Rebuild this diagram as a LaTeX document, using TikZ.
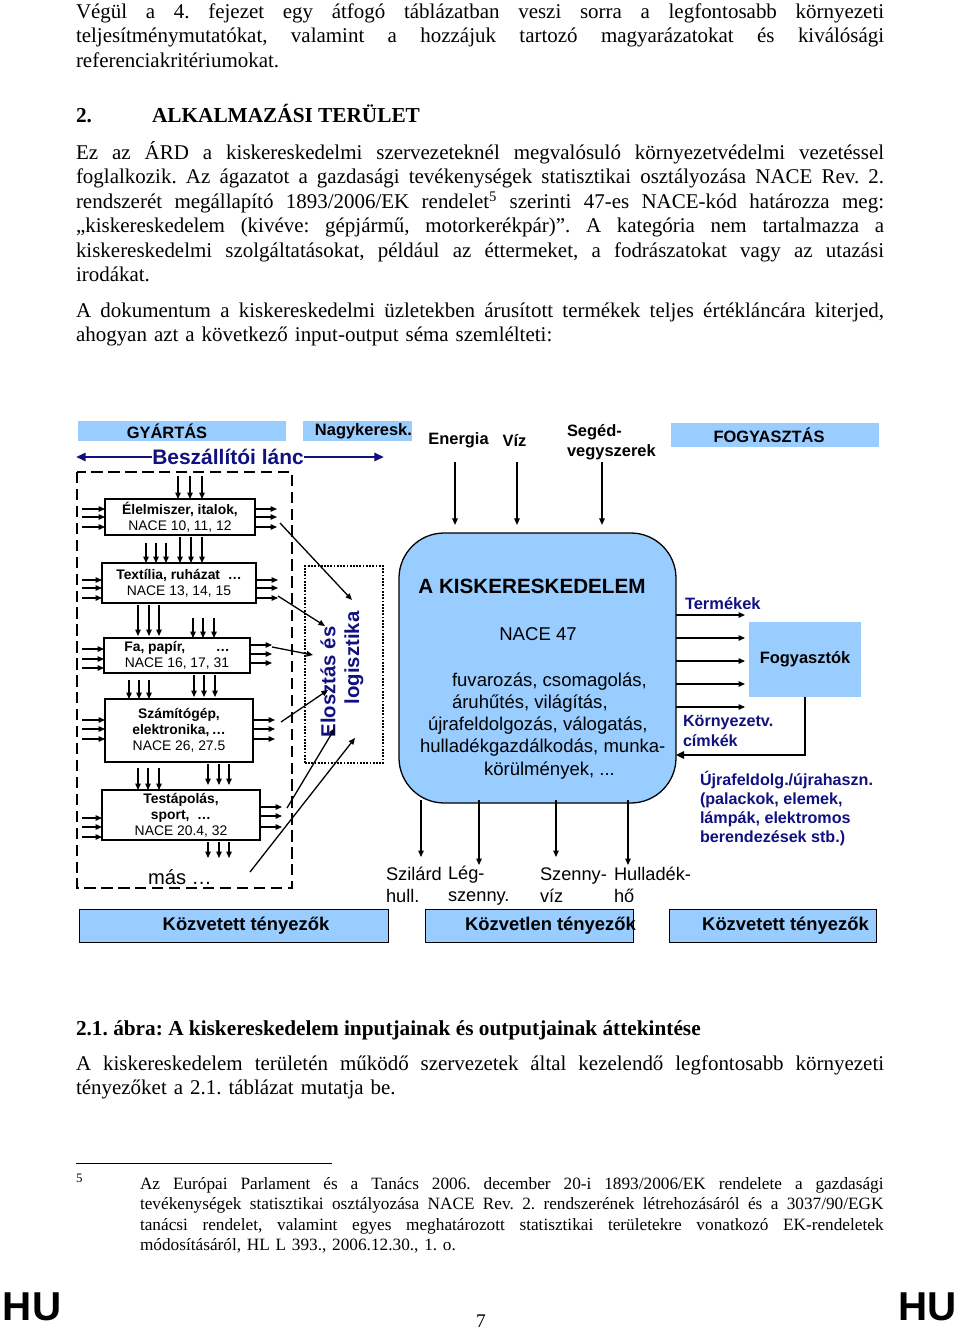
\documentclass[tikz,border=0pt]{standalone}
\usepackage{fontspec}
\setmainfont{Liberation Serif}
\setsansfont{Liberation Sans}
\usetikzlibrary{arrows.meta}

\definecolor{lightbar}{RGB}{153,204,255}
\definecolor{darknavy}{RGB}{16,16,128}

\newcommand{\pxu}{0.62pt}
% kitoltott (sorkizart) sor
\newcommand{\jline}[2]{\makebox[#1][s]{\spaceskip=0pt\xspaceskip=0pt #2}}
\frenchspacing

\begin{document}
\begin{tikzpicture}[x=0.62pt,y=-0.62pt,
  every node/.style={inner sep=0pt,outer sep=0pt},
  bodytext/.style={font=\fontsize{13}{15.2}\selectfont,text width=501pt,align=left,anchor=north west},
  headtext/.style={font=\bfseries\fontsize{13.2}{15.2}\selectfont,anchor=base west},
  notetext/.style={font=\fontsize{10.7}{12.7}\selectfont,text width=461pt,align=left,anchor=north west},
  sarr/.style={-{Triangle[length=4pt,width=3.4pt]},line width=0.8pt},
  navyarr/.style={-{Triangle[length=6pt,width=5pt]},line width=1.6pt,draw=darknavy},
  sector/.style={draw,fill=white,line width=0.7pt,font=\sffamily\fontsize{8.6}{10}\selectfont,align=center},
  topbar/.style={fill=lightbar,minimum height=20*\pxu},
  footbar/.style={fill=lightbar,draw,line width=0.6pt,minimum height=33*\pxu},
  lab/.style={font=\sffamily\bfseries\fontsize{10.2}{12.4}\selectfont,align=left},
  bartext/.style={font=\sffamily\bfseries\fontsize{11.4}{13.6}\selectfont},
  plain/.style={font=\sffamily\fontsize{11.3}{13.6}\selectfont,align=left},
  procline/.style={font=\sffamily\fontsize{11.5}{13.6}\selectfont,anchor=base west},
  navylab/.style={font=\sffamily\bfseries\fontsize{10}{11.8}\selectfont,text=darknavy,align=left},
  logtxt/.style={font=\sffamily\bfseries\fontsize{12.6}{15}\selectfont,text=darknavy,rotate=90}
]
\useasboundingbox (0,0) rectangle (960,1330);

% szoveg a rajz felett
\node[bodytext] (par1) at (76,1.3) {\jline{501pt}{\strut Végül a 4. fejezet egy átfogó táblázatban veszi sorra a legfontosabb környezeti}\\%
\jline{501pt}{teljesítménymutatókat, valamint a hozzájuk tartozó magyarázatokat és kiválósági}\\%
referenciakritériumokat.};
\node[headtext] (secnum) at (76,123) {2.};
\node[headtext] (sectitle) at (152,123) {ALKALMAZÁSI TERÜLET};
\node[bodytext] (par2) at (76,141.3) {\jline{501pt}{\strut Ez az ÁRD a kiskereskedelmi szervezeteknél megvalósuló környezetvédelmi vezetéssel}\\%
\jline{501pt}{foglalkozik. Az ágazatot a gazdasági tevékenységek statisztikai osztályozása NACE Rev. 2.}\\%
\jline{501pt}{rendszerét megállapító 1893/2006/EK rendelet\textsuperscript{5} szerinti 47-es NACE-kód határozza meg:}\\%
\jline{501pt}{„kiskereskedelem (kivéve: gépjármű, motorkerékpár)”. A kategória nem tartalmazza a}\\%
\jline{501pt}{kiskereskedelmi szolgáltatásokat, például az éttermeket, a fodrászatokat vagy az utazási}\\%
irodákat.};
\node[bodytext] (par3) at (76,300.3) {\jline{501pt}{\strut A dokumentum a kiskereskedelmi üzletekben árusított termékek teljes értékláncára kiterjed,}\\%
ahogyan azt a következő input-output séma szemlélteti:};

% felso savok
\node[topbar,minimum width=208*\pxu,lab] (gyartas) at (182,431) {GYÁRTÁS\hspace*{18.6pt}};
\node[topbar,minimum width=105*\pxu,lab] (nagyker) at (357.5,431) {\hspace*{7.4pt}Nagykeresk.};
\node[topbar,minimum width=208*\pxu,minimum height=24*\pxu,lab] (fogyasztas) at (775,435) {FOGYASZTÁS\hspace*{7.4pt}};
\node[font=\sffamily\bfseries\fontsize{13}{15}\selectfont,text=darknavy] (lanc) at (228,457) {Beszállítói lánc};
\draw[navyarr] (lanc.west) -- (76,457);
\draw[navyarr] (lanc.east) -- (384,457);

\node[lab] (energia) at (458.5,440) {Energia};
\node[lab] (viz) at (514.5,440) {Víz};
\node[lab,anchor=west] (seged) at (567,442) {Segéd-\\vegyszerek};

% gyartasi lanc
\draw[dash pattern=on 7pt off 3.5pt,line width=1.1pt] (77,472) rectangle (292,888);
\node[sector,minimum width=150*\pxu,minimum height=36*\pxu] (elelmiszer) at (180,517) {\textbf{Élelmiszer, italok,}\\NACE 10, 11, 12};
\node[sector,minimum width=154*\pxu,minimum height=40*\pxu] (textilia) at (179,583) {\textbf{Textília, ruházat\ \ …}\\NACE 13, 14, 15};
\node[sector,minimum width=146*\pxu,minimum height=35*\pxu] (fapapir) at (177,655.5) {\textbf{Fa, papír,\hspace{2.2em}…}\\NACE 16, 17, 31};
\node[sector,minimum width=148*\pxu,minimum height=63*\pxu] (szamitogep) at (179,730.5) {\textbf{Számítógép,}\\\textbf{elektronika,\,…}\\NACE 26, 27.5};
\node[sector,minimum width=158*\pxu,minimum height=50*\pxu] (testapolas) at (181,815) {\textbf{Testápolás,}\\\textbf{sport,\ \ …}\\NACE 20.4, 32};
\node[font=\sffamily\fontsize{12.5}{14}\selectfont] (mas) at (180,877) {más …};

\foreach \b/\ya/\yb/\yc/\yd/\ye/\yf in {elelmiszer/509/517/527/509/517/527, textilia/580/588/598/580/588/598, fapapir/649/659/668/645/654/663, szamitogep/720/729/739/720/729/739, testapolas/818/827/837/807/816/827}
{
  \foreach \yy in {\ya,\yb,\yc} \draw[sarr] (82,\yy) -- (\b.west |- 0,\yy);
  \foreach \yy in {\yd,\ye,\yf} \draw[sarr] (\b.east |- 0,\yy) -- ++(22,0);
}
\foreach \xa/\xb/\xc/\ys/\ye in {178/190/202/476/499, 146/156/166/543/563, 180/191/202/537/563, 138/149/159/605/636, 193/203/214/618/638, 129/139/149/680/699, 194/204/215/675/697, 138/148/159/768/790, 208/219/229/764/785, 208/219/229/842/858}
  \foreach \xx in {\xa,\xb,\xc} \draw[sarr] (\xx,\ys) -- (\xx,\ye);

% elosztas es logisztika
\node[draw,dash pattern=on 1.1pt off 0.9pt,line width=1.4pt,minimum width=78*\pxu,minimum height=197*\pxu] (logisztika) at (344,664.5) {};
\node[logtxt] (elosztas) at (328,682) {Elosztás és};
\node[logtxt] (logiszt) at (354,658) {logisztika};
\foreach \sx/\sy/\ex/\ey in {280/523/352/600, 278/596/325/626, 272/647/313/655, 281/722/328/690, 287/808/335/728, 250/872/355/738}
  \draw[sarr] (\sx,\sy) -- (\ex,\ey);

% kiskereskedelem
\node[draw,fill=lightbar,line width=0.8pt,rounded corners=28pt,minimum width=277*\pxu,minimum height=270*\pxu] (kisker) at (537.5,668) {};
\node[font=\sffamily\bfseries\fontsize{12.8}{15}\selectfont] (kiskcim) at (532,586) {A KISKERESKEDELEM};
\node[font=\sffamily\fontsize{11.5}{13.6}\selectfont] (nace47) at (538,634) {NACE 47};
\foreach \lx/\ly/\lt [count=\i] in {452/686/{fuvarozás, csomagolás,}, 452/708/{áruhűtés, világítás,}, 428/730/{újrafeldolgozás, válogatás,}, 420/752/{hulladékgazdálkodás, munka-}, 484/775/{körülmények, ...}}
  \node[procline] (proc\i) at (\lx,\ly) {\lt};

\draw[sarr,shorten >=5pt] (455,462) -- (455,0 |- kisker.north);
\draw[sarr,shorten >=5pt] (517,462) -- (517,0 |- kisker.north);
\draw[sarr,shorten >=5pt] (602,462) -- (602,0 |- kisker.north);

\foreach \bx/\by in {421/857, 479/865, 556/857, 628/865}
  \draw[sarr] (\bx,800) -- (\bx,\by);
\node[plain,anchor=west] (szilard) at (386,885) {Szilárd\\hull.};
\node[plain,anchor=west] (legszenny) at (448,886) {Lég-\\szenny.};
\node[plain,anchor=west] (szennyviz) at (540,885) {Szenny-\\víz};
\node[plain,anchor=west] (hulladekho) at (614,885) {Hulladék-\\hő};

% fogyasztas oldal
\foreach \ry in {615,638,661,684,707}
  \draw[sarr] (kisker.east |- 0,\ry) -- (745,\ry);
\node[navylab,anchor=west,font=\sffamily\bfseries\fontsize{10.2}{12}\selectfont] (termekek) at (685,604) {Termékek};
\node[fill=lightbar,minimum width=112*\pxu,minimum height=75*\pxu,lab] (fogyasztok) at (805,659.5) {Fogyasztók};
\node[navylab,anchor=west] (cimkek) at (683,731) {Környezetv.\\címkék};
\draw[line width=1.4pt,-{Triangle[length=5pt,width=4.5pt]}] (fogyasztok.south) |- (kisker.east |- 0,755);
\node[navylab,anchor=west] (ujra) at (700,808.5) {Újrafeldolg./újrahaszn.\\(palackok, elemek,\\lámpák, elektromos\\berendezések stb.)};

% also savok
\node[footbar,minimum width=309*\pxu] (kozvetett1) at (233.5,925.5) {};
\node[bartext] (kozvetett1t) at (246,926) {Közvetett tényezők};
\node[footbar,minimum width=208*\pxu] (kozvetlen) at (529,925.5) {};
\node[bartext] (kozvetlent) at (550.5,926) {Közvetlen tényezők};
\node[footbar,minimum width=207*\pxu] (kozvetett2) at (772.5,925.5) {};
\node[bartext] (kozvetett2t) at (785.5,926) {Közvetett tényezők};

% szoveg a rajz alatt
\node[headtext] (caption) at (76,1035.5) {2.1. ábra: A kiskereskedelem inputjainak és outputjainak áttekintése};
\node[bodytext] (par4) at (76,1053.3) {\jline{501pt}{\strut A kiskereskedelem területén működő szervezetek által kezelendő legfontosabb környezeti}\\%
tényezőket a 2.1. táblázat mutatja be.};
\draw[line width=0.5pt] (76,1163) -- (332,1163);
\node[anchor=base west,font=\fontsize{8}{9}\selectfont] (fnmark) at (76,1182) {5};
\node[notetext] (fnote) at (140,1174.7) {\jline{461pt}{\strut Az Európai Parlament és a Tanács 2006. december 20-i 1893/2006/EK rendelete a gazdasági}\\%
\jline{461pt}{tevékenységek statisztikai osztályozása NACE Rev. 2. rendszerének létrehozásáról és a 3037/90/EGK}\\%
\jline{461pt}{tanácsi rendelet, valamint egyes meghatározott statisztikai területekre vonatkozó EK-rendeletek}\\%
módosításáról, HL L 393., 2006.12.30., 1. o.};
\node[anchor=west,font=\sffamily\bfseries\fontsize{25}{27}\selectfont] (huleft) at (3,1307) {HU};
\node[anchor=east,font=\sffamily\bfseries\fontsize{25}{27}\selectfont] (huright) at (957,1307) {HU};
\node[anchor=base,font=\fontsize{12}{15.2}\selectfont] (pagenum) at (481,1327) {7};
\end{tikzpicture}
\end{document}
